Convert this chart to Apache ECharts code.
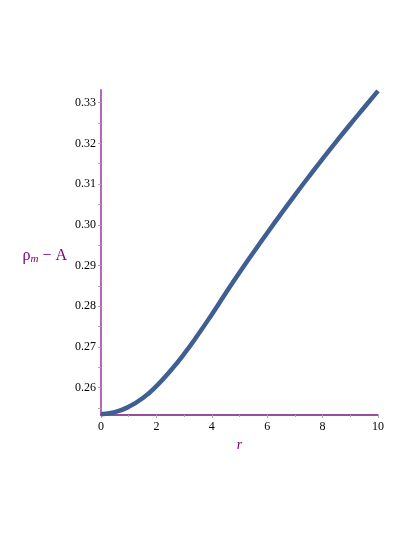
<!DOCTYPE html>
<html>
<head>
<meta charset="utf-8">
<script src="https://cdn.jsdelivr.net/npm/echarts@6/dist/echarts.min.js"></script>
<style>html,body{margin:0;padding:0;background:#fff;}#c{width:415px;height:537px;}</style>
</head>
<body>
<div id="c"></div>
<script>
var rValues   = [0, 0.5, 1, 1.5, 2, 2.5, 3, 3.5, 4, 4.5, 5, 5.5, 6, 6.5, 7, 7.5, 8, 8.5, 9, 9.5, 10];
var rhoValues = [0.2535, 0.2540, 0.2553, 0.2574, 0.2604, 0.2641, 0.2683, 0.2730, 0.2780, 0.2832, 0.2883, 0.2932, 0.2980, 0.3027, 0.3073, 0.3118, 0.3162, 0.3205, 0.3247, 0.3288, 0.3329];
var yTickLabels = [0.26, 0.27, 0.28, 0.29, 0.30, 0.31, 0.32, 0.33];
var yTickMarks = [0.255, 0.26, 0.265, 0.27, 0.275, 0.28, 0.285, 0.29, 0.295, 0.30, 0.305, 0.31, 0.315, 0.32, 0.325, 0.33];

var data = rValues.map(function (r, i) { return [r, rhoValues[i]]; });
var chart = echarts.init(document.getElementById('c'));
chart.setOption({
  animation: false,
  backgroundColor: '#fff',
  grid: { left: 101, right: 37, top: 90, bottom: 122 },
  xAxis: {
    type: 'value', min: 0, max: 10, interval: 2,
    name: 'r', nameLocation: 'middle', nameGap: 23,
    nameTextStyle: { color: '#800080', fontFamily: 'Liberation Serif', fontStyle: 'italic', fontSize: 14 },
    axisLine: { lineStyle: { color: '#7a137a', width: 1.5 } },
    axisTick: { show: true, length: 3, lineStyle: { color: '#aaa' } },
    minorTick: { show: true, splitNumber: 2, length: 2, lineStyle: { color: '#aaa' } },
    axisLabel: { color: '#000', fontFamily: 'Liberation Serif', fontSize: 12, margin: 6 },
    splitLine: { show: false }
  },
  yAxis: {
    type: 'value', min: 0.2533, max: 0.3331,
    name: '{a|ρ}{m|m}{a| − A}', nameLocation: 'middle', nameGap: 34, nameRotate: 0,
    nameTextStyle: {
      padding: [6, 0, 0, 0],
      rich: {
        a: { color: '#800080', fontFamily: 'Liberation Serif', fontSize: 16 },
        m: { color: '#800080', fontFamily: 'Liberation Serif', fontStyle: 'italic', fontSize: 11, verticalAlign: 'bottom', padding: [8, 0, 0, 0] }
      }
    },
    axisLine: { show: true, lineStyle: { color: '#b766b7', width: 2 } },
    axisTick: { show: true, length: 3, customValues: yTickMarks, lineStyle: { color: '#aaa' } },
    axisLabel: {
      color: '#000', fontFamily: 'Liberation Serif', fontSize: 12, margin: 5,
      customValues: yTickLabels,
      formatter: function (v) { return v.toFixed(2); }
    },
    splitLine: { show: false }
  },
  series: [{
    type: 'line', data: data, smooth: true, showSymbol: false,
    lineStyle: { color: '#3f5e92', width: 4.5 }
  }]
});
</script>
</body>
</html>
